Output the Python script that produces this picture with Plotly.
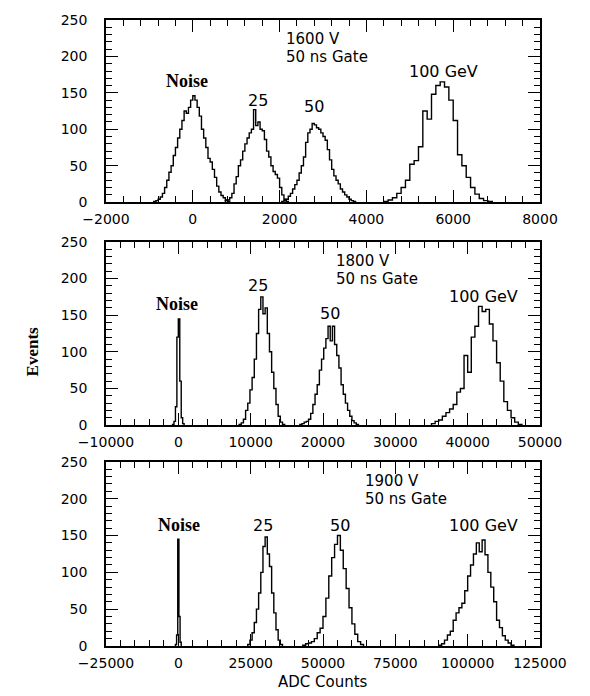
import plotly.graph_objects as go

# ---------------- data (bin start, bin width, counts) ----------------
# Panel 1 : 1600 V, 50 ns gate
P1_NOISE_START, P1_NOISE_BIN = -900, 50
P1_NOISE = [1, 2, 4, 7, 12, 20, 30, 41, 50, 64, 75, 88, 100, 112, 125, 122, 130, 140, 146,
            140, 130, 118, 100, 88, 75, 60, 55, 45, 34, 22, 14, 9, 6, 3, 1]
P1_25_START, P1_25_BIN = 750, 50
P1_25 = [2, 3, 6, 12, 25, 35, 50, 58, 70, 80, 88, 95, 100, 127, 105, 110, 100, 98, 86, 70,
         62, 50, 42, 38, 33, 20, 10, 4, 1]
P1_50_START, P1_50_BIN = 2050, 50
P1_50 = [1, 2, 4, 8, 12, 18, 24, 30, 40, 50, 62, 82, 95, 100, 108, 106, 102, 100, 95, 90,
         85, 72, 58, 45, 36, 30, 25, 18, 14, 10, 7, 4, 2, 1]
P1_100_START, P1_100_BIN = 4400, 100
P1_100 = [1, 3, 6, 12, 20, 30, 52, 57, 76, 125, 114, 148, 160, 165, 158, 140, 112, 65, 50,
          34, 20, 11, 5, 2, 1]

# Panel 2 : 1800 V, 50 ns gate
P2_NOISE_START, P2_NOISE_BIN = -800, 200
P2_NOISE = [1, 5, 25, 120, 145, 60, 10, 2]
P2_25_START, P2_25_BIN = 8400, 300
P2_25 = [1, 3, 8, 20, 30, 48, 65, 90, 125, 158, 175, 152, 160, 125, 100, 72, 50, 28, 12, 4, 1]
P2_50_START, P2_50_BIN = 16800, 300
P2_50 = [1, 2, 4, 5, 8, 16, 28, 42, 55, 75, 90, 105, 118, 135, 115, 135, 110, 95, 78, 55,
         42, 30, 20, 12, 6, 3, 1]
P2_100_START, P2_100_BIN = 35000, 500
P2_100 = [2, 5, 7, 12, 17, 22, 28, 45, 50, 95, 72, 120, 135, 162, 155, 158, 138, 115, 85,
          60, 32, 20, 10, 4, 1]

# Panel 3 : 1900 V, 50 ns gate
P3_NOISE_START, P3_NOISE_BIN = -1000, 400
P3_NOISE = [2, 15, 145, 40, 5]
P3_25_START, P3_25_BIN = 24000, 750
P3_25 = [2, 8, 18, 32, 50, 72, 100, 135, 148, 125, 108, 72, 45, 22, 8, 2]
P3_50_START, P3_50_BIN = 43000, 1000
P3_50 = [1, 3, 4, 6, 10, 18, 24, 40, 65, 95, 120, 138, 150, 130, 105, 78, 52, 30, 16, 6, 2]
P3_100_START, P3_100_BIN = 90000, 1000
P3_100 = [1, 3, 8, 15, 20, 35, 45, 52, 58, 75, 95, 110, 125, 140, 128, 144, 124, 100, 80,
          60, 35, 25, 14, 8, 4, 1]

PANELS = [
    dict(hists=[(P1_NOISE_START, P1_NOISE_BIN, P1_NOISE), (P1_25_START, P1_25_BIN, P1_25),
                (P1_50_START, P1_50_BIN, P1_50), (P1_100_START, P1_100_BIN, P1_100)],
         xrange=[-2000, 8000], dtick=2000, minor=400,
         volt="1600 V", volt_x=2090,
         labels=[("Noise", -130, 166), ("25", 1500, 140), ("50", 2800, 131), ("100 GeV", 5780, 180)]),
    dict(hists=[(P2_NOISE_START, P2_NOISE_BIN, P2_NOISE), (P2_25_START, P2_25_BIN, P2_25),
                (P2_50_START, P2_50_BIN, P2_50), (P2_100_START, P2_100_BIN, P2_100)],
         xrange=[-10000, 50000], dtick=10000, minor=2000,
         volt="1800 V", volt_x=21500,
         labels=[("Noise", -150, 165), ("25", 11000, 191), ("50", 20900, 152), ("100 GeV", 42200, 176)]),
    dict(hists=[(P3_NOISE_START, P3_NOISE_BIN, P3_NOISE), (P3_25_START, P3_25_BIN, P3_25),
                (P3_50_START, P3_50_BIN, P3_50), (P3_100_START, P3_100_BIN, P3_100)],
         xrange=[-25000, 125000], dtick=25000, minor=5000,
         volt="1900 V", volt_x=63800,
         labels=[("Noise", 250, 164), ("25", 29400, 164), ("50", 55800, 164), ("100 GeV", 105300, 164)]),
]

# ---------------- layout geometry ----------------
W, H = 590, 696
ML, MR, MT, MB = 106, 50, 17, 50
PANEL_PX = [(17, 200), (240, 424), (461, 646)]   # top/bottom pixel of each frame
plot_h = H - MT - MB
plot_w = W - ML - MR


def to_dom(top, bottom):
    return [(H - MB - bottom) / plot_h, (H - MB - top) / plot_h]


fig = go.Figure()
TICK_FONT = dict(family="DejaVu Sans", size=14, color="black")
LBL_FONT = dict(family="DejaVu Sans", size=15, color="black")
MAJ = dict(ticks="inside", ticklen=12, tickwidth=1.3, tickcolor="black")
MIN = dict(ticks="inside", ticklen=6, tickwidth=1.1, tickcolor="black")

for i, p in enumerate(PANELS):
    n = i + 1
    xa = "x" if n == 1 else f"x{n}"
    ya = "y" if n == 1 else f"y{n}"
    xo, yo = f"x{n + 3}", f"y{n + 3}"       # overlay axes carrying the top / right ticks
    for start, width, counts in p["hists"]:
        edges = [start + k * width for k in range(len(counts))]
        xs = [edges[0]] + edges + [edges[-1] + width]
        ys = [0] + list(counts) + [0]
        fig.add_trace(go.Scatter(x=xs, y=ys, mode="lines", line=dict(shape="hv", color="black", width=1.4),
                                 xaxis=xa, yaxis=ya, showlegend=False, hoverinfo="skip"))
    # empty traces so the overlay axes are drawn
    fig.add_trace(go.Scatter(x=[None], y=[None], xaxis=xo, yaxis=ya, showlegend=False, hoverinfo="skip"))
    fig.add_trace(go.Scatter(x=[None], y=[None], xaxis=xa, yaxis=yo, showlegend=False, hoverinfo="skip"))

    dom = to_dom(*PANEL_PX[i])
    common = dict(showline=True, linecolor="black", linewidth=1.5, showgrid=False, zeroline=False,
                  tickfont=TICK_FONT, **MAJ)
    fig.layout[f"xaxis{'' if n == 1 else n}"] = dict(
        common, mirror=True, domain=[0, 1], anchor=ya, range=p["xrange"], tick0=0, dtick=p["dtick"],
        tickformat="d", exponentformat="none", ticklabelstandoff=3, minor=dict(MIN, dtick=p["minor"]))
    fig.layout[f"yaxis{'' if n == 1 else n}"] = dict(
        common, mirror=True, domain=dom, anchor=xa, range=[0, 250], tick0=0, dtick=50,
        ticklabelstandoff=14, minor=dict(MIN, dtick=10))
    fig.layout[f"xaxis{n + 3}"] = dict(
        showline=False, showgrid=False, zeroline=False, showticklabels=False, **MAJ,
        overlaying=xa, side="top", anchor=ya, range=p["xrange"], tick0=0, dtick=p["dtick"],
        minor=dict(MIN, dtick=p["minor"]))
    fig.layout[f"yaxis{n + 3}"] = dict(
        showline=False, showgrid=False, zeroline=False, showticklabels=False, **MAJ,
        overlaying=ya, side="right", anchor=xa, range=[0, 250], tick0=0, dtick=50,
        minor=dict(MIN, dtick=10))

    fig.add_annotation(x=p["volt_x"], y=224, xref=xa, yref=ya, text=p["volt"], showarrow=False,
                       xanchor="left", yanchor="middle", font=LBL_FONT)
    fig.add_annotation(x=p["volt_x"], y=199, xref=xa, yref=ya, text="50 ns Gate", showarrow=False,
                       xanchor="left", yanchor="middle", font=LBL_FONT)
    for txt, lx, ly in p["labels"]:
        if txt == "Noise":
            fig.add_annotation(x=lx, y=ly, xref=xa, yref=ya, text="<b>Noise</b>", showarrow=False,
                               xanchor="center", yanchor="middle",
                               font=dict(family="Liberation Serif", size=18, color="black"))
        else:
            fig.add_annotation(x=lx, y=ly, xref=xa, yref=ya, text=txt, showarrow=False,
                               xanchor="center", yanchor="middle", font=dict(LBL_FONT, size=16))

fig.add_annotation(x=(32 - ML) / plot_w, y=(H - MB - 350) / plot_h, xref="paper", yref="paper",
                   text="<b>Events</b>", textangle=-90, showarrow=False,
                   xanchor="center", yanchor="middle",
                   font=dict(family="Liberation Serif", size=17, color="black"))
fig.add_annotation(x=0.5, y=(H - MB - 682) / plot_h, xref="paper", yref="paper", text="ADC Counts",
                   showarrow=False, xanchor="center", yanchor="middle",
                   font=dict(family="DejaVu Sans", size=15, color="black"))

fig.update_layout(width=W, height=H, margin=dict(l=ML, r=MR, t=MT, b=MB),
                  paper_bgcolor="white", plot_bgcolor="white")
fig.write_html("out.html")
